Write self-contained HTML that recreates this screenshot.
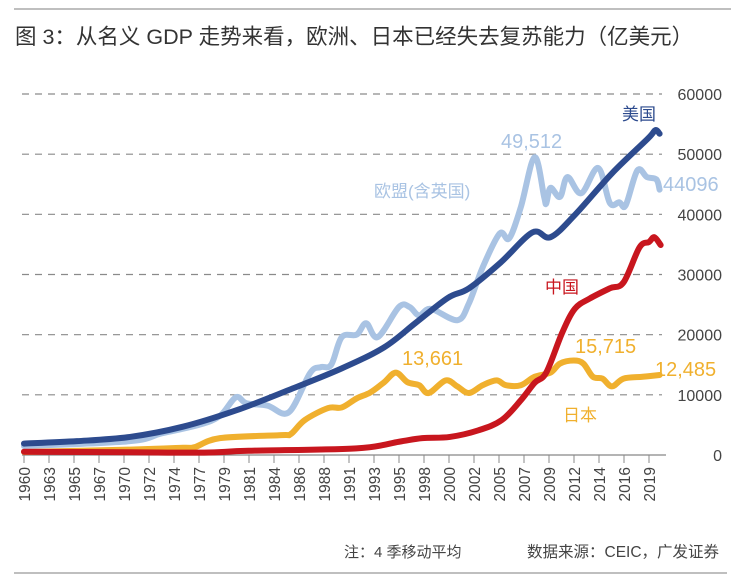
<!DOCTYPE html>
<html><head><meta charset="utf-8">
<style>
html,body{margin:0;padding:0;background:#fff;}
body{width:731px;height:585px;overflow:hidden;position:relative;font-family:"Liberation Sans","Noto Sans CJK SC",sans-serif;}
</style></head>
<body>
<svg id="chart" width="731" height="585" viewBox="0 0 731 585" xmlns="http://www.w3.org/2000/svg" style="position:absolute;left:0;top:0">
<line x1="14" y1="9" x2="731" y2="9" stroke="#999" stroke-width="1.2"/>
<text x="15" y="44" font-size="21.5" fill="#333" font-family="Liberation Sans, Noto Sans CJK SC, sans-serif">图 3：从名义 GDP 走势来看，欧洲、日本已经失去复苏能力（亿美元）</text>
<g id="grid"></g><g id="axis"></g><g id="series"></g>
<text x="622" y="120" font-size="17" fill="#2d4b8e">美国</text>
<text x="374" y="197" font-size="17" fill="#a9c3e3">欧盟(含英国)</text>
<text x="545" y="293" font-size="17" fill="#c8161e">中国</text>
<text x="563" y="421" font-size="17" fill="#f0b02e">日本</text>
<text x="501" y="148" font-size="20" fill="#a9c3e3">49,512</text>
<text x="663" y="191" font-size="20" fill="#a9c3e3">44096</text>
<text x="402" y="365" font-size="20" fill="#f0b02e">13,661</text>
<text x="575" y="353" font-size="20" fill="#f0b02e">15,715</text>
<text x="655" y="376" font-size="20" fill="#f0b02e">12,485</text>
<text x="344" y="557" font-size="15" fill="#444">注：4 季移动平均</text>
<text x="527" y="557" font-size="15.5" fill="#444">数据来源：CEIC，广发证券</text>
<line x1="14" y1="573" x2="727" y2="573" stroke="#999" stroke-width="1.2"/>
</svg>
<script>
const yTicks=[0,10000,20000,30000,40000,50000,60000];
const xLabels=["1960","1963","1965","1967","1970","1972","1974","1977","1979","1981","1984","1986","1988","1991","1993","1995","1998","2000","2002","2005","2007","2009","2012","2014","2016","2019"];
const usYears=[1960,1965,1970,1975,1980,1985,1990,1994,1997,2000,2002,2005,2008,2009.7,2012,2015.5,2018.9,2019.6,2020];
const usVals=[1900,2300,3000,4700,7400,10800,14400,17900,22000,26100,27700,32000,37000,36200,39900,46800,52600,54000,53400];
const euYears=[1960,1970,1973,1976.5,1978.5,1980,1981,1983,1985,1987,1988,1989,1990,1991.4,1992.3,1993.4,1995.4,1996.4,1997.3,1998.4,2000.9,2002,2003.3,2004.9,2005.8,2006.9,2008.2,2009.1,2009.3,2009.7,2010.6,2011.3,2012.6,2014.2,2015.3,2016.2,2016.8,2017.9,2018.8,2019.7,2020];
const euVals=[1500,2300,3600,5000,6500,9600,8600,8200,7100,13600,14600,15000,19600,20000,21900,19600,24600,24600,23200,24300,22400,25200,31200,36800,36000,41200,49500,42900,41800,44400,42900,46200,43500,47700,41900,42000,41500,47300,46200,45800,44100];
const jpYears=[1960,1970,1975,1976.1,1978.5,1984.3,1985.2,1986.5,1988.7,1990,1991.4,1992.7,1994,1995.1,1996.2,1997.3,1998.2,1999.8,2000.9,2002,2003.3,2004.6,2005.5,2006.9,2008.2,2009.7,2010.6,2011.9,2012.8,2013.7,2014.6,2015.5,2016.6,2018.4,2020];
const jpVals=[500,900,1200,1300,2800,3300,3500,5800,7800,7900,9400,10400,12100,13700,12100,11600,10300,12400,11400,10300,11600,12400,11600,11600,13000,13700,15200,15700,15200,13000,12700,11400,12700,13000,13300];
const cnYears=[1960,1970,1977,1981.2,1991.4,1995.4,1997.6,2000.2,2002.9,2005.1,2006.9,2008.2,2009.3,2010.8,2012.0,2013.4,2015.3,2016.6,2018.1,2019,2019.5,2020.1];
const cnVals=[550,450,400,700,1100,2200,2800,3000,4100,5800,9100,12000,13700,20300,24300,26000,27700,28700,34500,35400,36200,34900];

const NS="http://www.w3.org/2000/svg";
const X0=24,X1=649,Y0=455,Y1=94;
function xs(yr){return X0+(yr-1960)*(X1-X0)/59;}
function ys(v){return Y0-v*(Y0-Y1)/60000;}
function mk(tag,attrs,parent){const e=document.createElementNS(NS,tag);for(const k in attrs)e.setAttribute(k,attrs[k]);parent.appendChild(e);return e;}
const grid=document.getElementById('grid'),axis=document.getElementById('axis'),ser=document.getElementById('series');
yTicks.forEach(v=>{
  if(v>0){const g=mk('line',{x1:22,x2:662,y1:ys(v),y2:ys(v),stroke:'#8a8a8a','stroke-width':1.2,'stroke-dasharray':'7,6'},grid);
  
  }
  const t=mk('text',{x:722,y:ys(v)+6,'text-anchor':'end','font-size':16,fill:'#444'},axis);
  t.textContent=v;
  
  
});
const ax=mk('line',{x1:22,x2:666,y1:Y0,y2:Y0,stroke:'#888','stroke-width':1.2},axis);


xLabels.forEach((lab,i)=>{
  const x=X0+i*(X1-X0)/(xLabels.length-1);
  const tk=mk('line',{x1:x,x2:x,y1:Y0,y2:Y0+8,stroke:'#888','stroke-width':1},axis);
  
  
  const t=mk('text',{x:0,y:0,'font-size':15.5,fill:'#444','text-anchor':'end',transform:`translate(${x+6},${Y0+12}) rotate(-90)`},axis);
  t.textContent=lab;
  
  
});
function line(years,vals,color,name){
  const pts=years.map((y,i)=>[xs(y),ys(vals[i])]);
  let d='M'+pts[0][0]+','+pts[0][1];
  for(let i=1;i<pts.length;i++){
    const p0=pts[Math.max(0,i-2)],p1=pts[i-1],p2=pts[i],p3=pts[Math.min(pts.length-1,i+1)];
    const c1=[p1[0]+(p2[0]-p0[0])/6,p1[1]+(p2[1]-p0[1])/6],c2=[p2[0]-(p3[0]-p1[0])/6,p2[1]-(p3[1]-p1[1])/6];
    d+=` C${c1[0]},${c1[1]} ${c2[0]},${c2[1]} ${p2[0]},${p2[1]}`;
  }
  const p=mk('path',{d:d,fill:'none',stroke:color,'stroke-width':6,'stroke-linecap':'round','stroke-linejoin':'round'},ser);
  
  
}
line(jpYears,jpVals,'#f0b02e','japan-line');
line(euYears,euVals,'#a9c3e3','eu-line');
line(usYears,usVals,'#2d4b8e','usa-line');
line(cnYears,cnVals,'#c8161e','china-line');
</script>
</body></html>
